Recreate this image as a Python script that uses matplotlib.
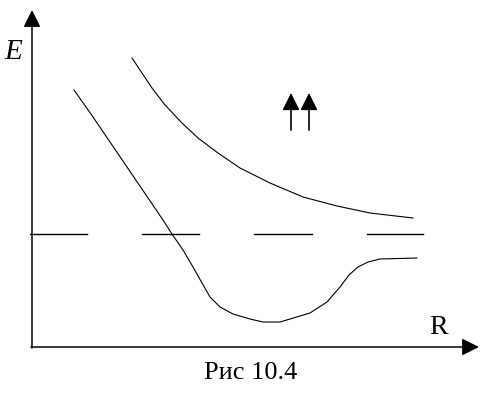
import matplotlib
matplotlib.use("Agg")
import matplotlib.pyplot as plt

# values, in image pixel units (y grows downward)
upper_x = [132, 142, 152, 165, 182, 198, 218, 240, 270, 303, 337, 370, 413]
upper_y = [58, 73, 88, 105, 123, 138, 153, 168, 183, 197, 206, 213, 218]

lower_x = [74, 93, 127, 163, 172, 183, 193, 202, 210, 220, 233, 250, 263,
           280, 290, 310, 327, 340, 349, 358, 368, 380, 417]
lower_y = [90, 117, 167, 220, 234, 250, 267, 283, 297, 307, 314, 319, 322,
           322, 319, 313, 302, 287, 275, 267, 262, 259, 258]

dash_level = 234
dash_starts = [30, 142, 254, 367]
dash_ends = [87, 199, 312, 423]

spin_x = [291, 309]

fig = plt.figure(figsize=(4.88, 3.96), dpi=100)
ax = fig.add_axes([0, 0, 1, 1])
ax.set_xlim(0, 488)
ax.set_ylim(396, 0)
ax.axis('off')

serif = ['Liberation Serif', 'DejaVu Serif']

# axes with arrow heads
arrow_kw = dict(arrowstyle='-|>', mutation_scale=26, lw=1.1, color='k',
                shrinkA=0, shrinkB=0)
ax.annotate('', xy=(32, 10), xytext=(32, 348), arrowprops=arrow_kw)
ax.annotate('', xy=(479, 347), xytext=(31, 347), arrowprops=arrow_kw)

ax.text(13, 52, 'E', fontsize=21, style='italic', family=serif,
        ha='center', va='center')
ax.text(439, 327, 'R', fontsize=20, family=serif, ha='center', va='center')

# potential curves
ax.plot(upper_x, upper_y, color='k', lw=0.8, solid_joinstyle='round')
ax.plot(lower_x, lower_y, color='k', lw=0.8, solid_joinstyle='round')

# asymptote
for a, b in zip(dash_starts, dash_ends):
    ax.plot([a, b], [dash_level, dash_level], color='k', lw=1.0)

# parallel spins
spin_kw = dict(arrowstyle='-|>', mutation_scale=26, lw=1.2, color='k',
               shrinkA=0, shrinkB=0)
for sx in spin_x:
    ax.annotate('', xy=(sx, 93), xytext=(sx, 130), arrowprops=spin_kw)

ax.text(251, 373, 'Рис 10.4', fontsize=19, family=serif,
        ha='center', va='center')

fig.savefig('out.png', dpi=100)
